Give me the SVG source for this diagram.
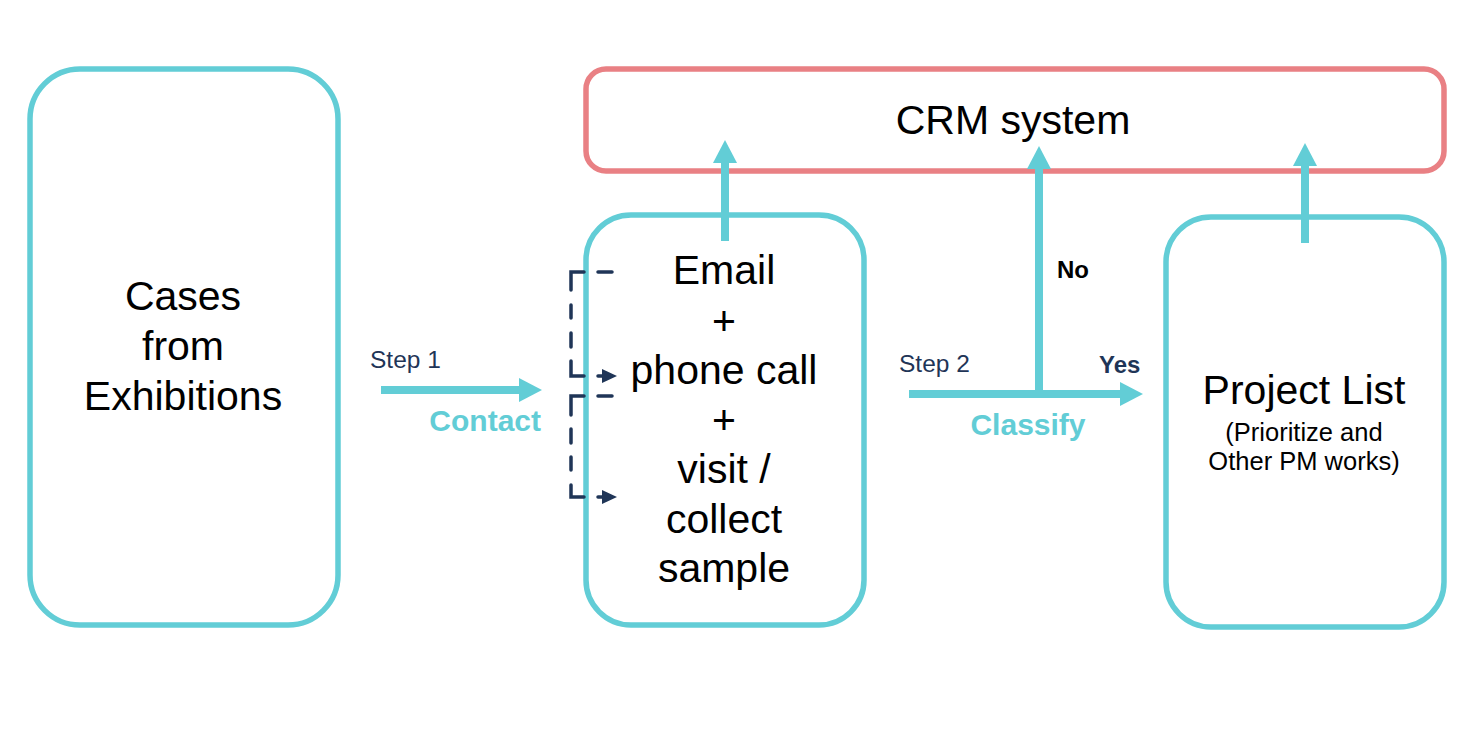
<svg xmlns="http://www.w3.org/2000/svg" width="1476" height="730" viewBox="0 0 1476 730">
  <defs>
    <style>
      .box { fill: #ffffff; stroke: #62CDD6; stroke-width: 5.5; }
      .crm { fill: #ffffff; stroke: #E98084; stroke-width: 5.5; }
      .t { font-family: "Liberation Sans", Arial, sans-serif; fill: #000000; }
      .big { font-size: 41px; }
      .sub { font-size: 25.5px; }
      .step { font-size: 24.5px; fill: #1F3557; }
      .lbl { font-size: 30px; font-weight: bold; fill: #62CDD6; }
      .yn { font-size: 24px; font-weight: bold; }
      .flow { stroke: #62CDD6; stroke-width: 8; fill: none; marker-end: url(#ah); }
      .dash { stroke: #1F3557; stroke-width: 3.5; fill: none; stroke-linecap: round; }
      .dhead { fill: #1F3557; }
    </style>
    <marker id="ah" viewBox="0 0 23 24" refX="0" refY="12" markerWidth="23" markerHeight="24" markerUnits="userSpaceOnUse" orient="auto">
      <path d="M0,0 L23,12 L0,24 Z" fill="#62CDD6"/>
    </marker>
  </defs>
  <rect width="1476" height="730" fill="#ffffff"/>

  <g id="cases">
    <rect class="box" x="30" y="69" width="308" height="556" rx="50" ry="50"/>
    <text class="t big" text-anchor="middle" x="183" y="310">Cases</text>
    <text class="t big" text-anchor="middle" x="183" y="360">from</text>
    <text class="t big" text-anchor="middle" x="183" y="410">Exhibitions</text>
  </g>

  <g id="crm">
    <rect class="crm" x="586" y="69" width="858" height="102" rx="20" ry="20"/>
    <text class="t big" text-anchor="middle" x="1013" y="134">CRM system</text>
  </g>

  <g id="contact-actions">
    <rect class="box" x="586" y="215" width="278" height="410" rx="45" ry="45"/>
    <text class="t big" text-anchor="middle" x="724" y="284">Email</text>
    <text class="t big" text-anchor="middle" x="724" y="335">+</text>
    <text class="t big" text-anchor="middle" x="724" y="384">phone call</text>
    <text class="t big" text-anchor="middle" x="724" y="434">+</text>
    <text class="t big" text-anchor="middle" x="724" y="483">visit /</text>
    <text class="t big" text-anchor="middle" x="724" y="533">collect</text>
    <text class="t big" text-anchor="middle" x="724" y="582">sample</text>
  </g>

  <g id="project-list">
    <rect class="box" x="1166" y="217" width="278" height="410" rx="45" ry="45"/>
    <text class="t big" text-anchor="middle" x="1304" y="404">Project List</text>
    <text class="t sub" text-anchor="middle" x="1304" y="441">(Prioritize and</text>
    <text class="t sub" text-anchor="middle" x="1304" y="470">Other PM works)</text>
  </g>

  <g id="connectors">
    <line class="flow" x1="381" y1="390" x2="519" y2="390"/>
    <line class="flow" x1="909" y1="394" x2="1120" y2="394"/>
    <line class="flow" x1="1039" y1="398" x2="1039" y2="169"/>
    <line class="flow" x1="725" y1="241" x2="725" y2="163"/>
    <line class="flow" x1="1305" y1="243" x2="1305" y2="166"/>

    <path class="dash" d="M598,272 H612 M584,272 H571 V290 M571,305 V318 M571,333 V347 M571,361 V376 H584 M598,376 H604"/>
    <polygon class="dhead" points="602,369 617,376 602,383"/>
    <path class="dash" d="M598,396 H612 M584,396 H571 V415 M571,429 V443 M571,457 V470 M571,485 V497 H584 M598,497 H604"/>
    <polygon class="dhead" points="602,490 617,497 602,504"/>

    <text class="t step" x="370" y="368">Step 1</text>
    <text class="t lbl" text-anchor="end" x="541" y="431">Contact</text>
    <text class="t step" x="899" y="372">Step 2</text>
    <text class="t lbl" text-anchor="middle" x="1028" y="435">Classify</text>
    <text class="t yn" x="1057" y="278">No</text>
    <text class="t yn" x="1099" y="373" style="fill:#1F3557">Yes</text>
  </g>
</svg>
